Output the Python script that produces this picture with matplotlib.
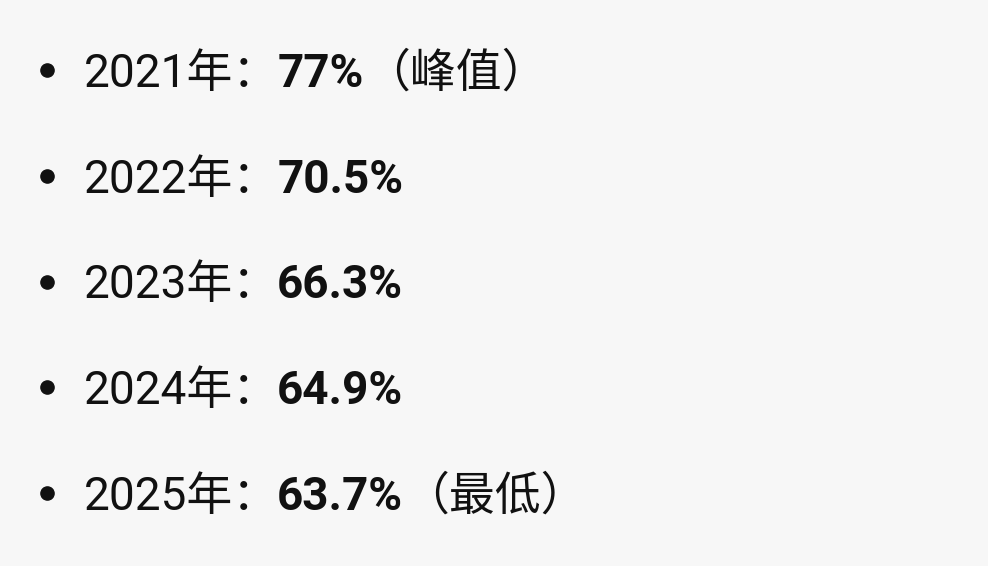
import matplotlib
matplotlib.use("Agg")
import matplotlib.pyplot as plt

years = ["2021", "2022", "2023", "2024", "2025"]
values = ["77%", "70.5%", "66.3%", "64.9%", "63.7%"]
notes = ["（峰值）", "", "", "", "（最低）"]

W, H = 988, 566
fig = plt.figure(figsize=(W / 100, H / 100), dpi=100)
fig.patch.set_facecolor("#f7f7f7")
ax = fig.add_axes([0, 0, 1, 1])
ax.set_xlim(0, W)
ax.set_ylim(H, 0)
ax.axis("off")

fam = ["Roboto", "Noto Sans CJK SC", "DejaVu Sans"]
fs = 33
base0, dy = 87, 105.75
renderer = fig.canvas.get_renderer()
inv = ax.transData.inverted()

for i, (yr, val, note) in enumerate(zip(years, values, notes)):
    yb = base0 + i * dy
    ax.plot([47], [yb - 17], "o", color="#111111", markersize=9.5)
    t1 = ax.text(84, yb, yr + "年：", fontsize=fs, family=fam, va="baseline",
                 ha="left", color="#111111")
    bb = t1.get_window_extent(renderer)
    x1 = inv.transform((bb.x1, bb.y0))[0]
    t2 = ax.text(x1 - 2, yb, val, fontsize=fs, family=fam, weight="semibold",
                 va="baseline", ha="left", color="#111111")
    if note:
        bb2 = t2.get_window_extent(renderer)
        x2 = inv.transform((bb2.x1, bb2.y0))[0]
        ax.text(x2, yb, note, fontsize=fs, family=fam, va="baseline",
                ha="left", color="#111111")

fig.savefig("out.png", dpi=100, facecolor=fig.get_facecolor())
